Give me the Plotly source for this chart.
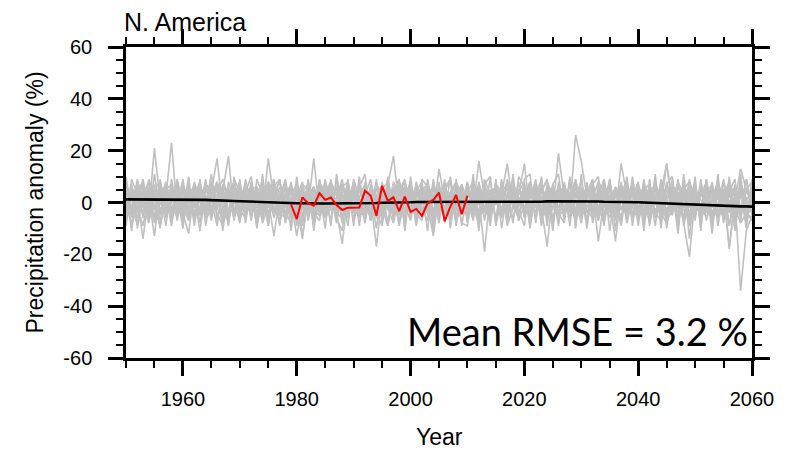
import plotly.graph_objects as go

years = list(range(1950, 2061))

member_a = [3, -5, 8, 2, -4, 21, 0, 5, -6, 2,
            4, -3, 1, 7, -2, 3, 6, -8, 2, 5,
            -1, 4, -6, 3, 8, 1, -13, 2, 5, -3,
            6, -2, 4, -9, 1, 7, -3, 2, 9, -5,
            3, -1, 5, -7, 2, 4, -3, 8, 1, -6,
            5, -2, 3, -4, 7, 1, -6, 2, 4, -3,
            6, -5, 2, -19, 4, 1, -3, 7, 2, -5,
            3, 8, -2, 5, -4, 1, 6, -3, 2, 9,
            -4, 3, 1, -7, 5, 2, -3, 6, -1, 4,
            -5, 7, 2, -3, 1, -6, 4, 3, -8, -21,
            2, 5, -4, 1, 6, -7, 3, -2, 4, -6,
            2]
member_b = [-2, 6, 1, -14, 4, -3, 7, 2, 23, -4,
            1, 5, -7, 3, 2, -4, 8, 1, -3, 6,
            2, -5, 7, 1, -3, 4, 9, -2, 1, -6,
            3, 5, -2, 17, -4, 1, 6, -3, 2, 4,
            -6, 2, 7, -1, 3, -4, 5, 1, -8, 3,
            4, -3, 6, 2, -5, 13, 1, -4, 3, 7,
            -2, 5, 3, -6, 1, 4, -3, 8, -1, 2,
            -5, 3, 6, -2, -17, 4, 1, 7, -3, 26,
            16, 2, -5, 4, 1, -6, 3, 7, -2, 5,
            1, -4, 6, 2, -3, 5, -1, 8, 3, -5,
            4, -2, 6, 1, -5, 3, -9, 2, 5, -3,
            1]
member_c = [5, 1, -6, 4, 2, -13, 6, -2, 3, 7,
            -4, -12, 5, 2, -3, 8, 1, 4, 18, -5,
            6, 2, -3, 1, 5, -7, 3, 8, -2, 4,
            -1, -14, 3, 6, -2, 4, 1, -5, 7, 2,
            4, -3, 6, 1, -17, 3, 5, -2, 4, 8,
            -3, 2, 5, -1, -13, 4, 7, -2, 3, 1,
            5, -3, 16, 2, -4, 6, 1, -2, 7, 3,
            15, -4, 2, 6, -3, 1, 5, -6, 3, 2,
            6, -2, 4, -15, 1, 7, -3, 2, 5, -1,
            3, -6, 2, 5, -2, 15, 1, -4, 6, 3,
            -2, 7, 1, -4, 3, 5, -18, 2, -34, -11,
            -5]
member_d = [-6, 4, 2, 7, -3, 1, 5, -4, 2, 6,
            3, -2, 6, -5, 1, 4, 17, -3, 2, 1,
            -4, 7, 1, -2, 5, 3, -6, 2, 8, -1,
            4, -13, 2, 5, -3, 8, 1, -4, -16, 3,
            2, 6, -3, 4, 1, -5, 7, 18, -2, 4,
            1, 5, -4, 3, 6, -2, 2, -5, 4, 1,
            -3, 6, 2, 4, -5, 1, 3, 15, -2, 5,
            2, -6, 4, 1, 5, -3, 19, 2, -4, 6,
            -3, 5, 1, 4, -2, 6, -5, 15, 3, -1,
            5, 2, -3, 6, 1, -4, 3, 7, -2, 4,
            1, -5, 6, 3, -2, 4, -17, 1, 13, 5,
            3]
member_e = [2, -3, 9, -2, 5, 1, -4, 6, 3, -5,
            7, 1, -4, 3, 6, -2, 2, -5, 4, 1,
            3, -2, 5, 6, -4, 17, 1, -3, 2, 5,
            -2, 4, 1, -6, 3, 2, 7, -1, 4, -3,
            5, 1, -2, 6, 3, -4, 2, 5, 1, -3,
            2, 6, -3, 1, 5, -4, 3, 2, -6, 4,
            1, -4, 5, 3, -2, 6, 1, -3, 4, 2,
            -3, 5, 2, -4, 6, 1, -2, 4, 3, -5,
            4, 1, -3, 6, -5, 2, 4, -2, 1, 7,
            -3, 2, 5, -1, 4, 15, -2, 3, 6, -4,
            2, 5, -3, 1, 4, -2, 6, -4, 3, 1,
            -2]
member_f = [-4, 7, -10, 3, 1, -6, 4, 2, -3, 5,
            1, 6, -2, 4, -5, 2, 3, -1, 6, -4,
            5, -3, 2, -6, 4, 1, 7, -2, 3, -4,
            2, 5, -5, 3, 6, -2, 1, 4, -3, 2,
            -1, 4, 6, -3, 2, -2, 5, 1, -4, 3,
            6, -2, 1, 4, -3, 2, 5, -4, 1, 6,
            -2, 3, 6, -4, 1, 5, -3, 2, 4, -1,
            6, -2, 3, 5, -1, 2, -4, 6, 1, 3,
            -2, 4, 6, -3, 2, 1, -15, 3, 5, -2,
            4, 1, -3, 6, 2, -4, 5, 1, -2, 3,
            6, -3, 2, 4, -1, 5, -4, 2, 6, -2,
            3]
member_g = [1, 4, -3, 6, 2, -5, 3, 7, -2, 1,
            -3, 5, 2, -4, 6, 1, -2, 4, 3, -6,
            2, 5, -1, 4, -3, 6, 2, -5, 3, 1,
            5, -3, 2, 6, -4, 1, 3, -2, 5, 2,
            -4, 6, 1, -3, 5, 2, -2, 4, 6, -3,
            3, 1, -4, 5, 2, -3, 6, 1, -2, 4,
            5, -2, 1, 4, -4, 2, 6, -3, 1, 5,
            -2, 4, 1, -5, 3, 6, -2, 2, 4, -3,
            5, 1, -4, 2, 6, -2, 3, 1, -5, 4,
            2, -3, 5, 1, -4, 3, 6, -2, 2, -5,
            4, 1, -3, 5, 2, -4, 3, 6, -2, 1,
            4]
member_h = [6, -2, 3, -5, 1, 4, -3, 2, 5, -1,
            2, -5, 4, 1, -3, 6, -2, 3, 1, 4,
            -5, 3, 1, 6, -2, 4, -4, 1, 5, -2,
            3, 1, -4, 5, 2, -3, 4, 6, -1, 3,
            1, -5, 3, 2, 6, -2, 4, -3, 1, 5,
            -4, 3, 6, -1, 2, 5, -3, 4, 1, -2,
            4, 1, -4, 6, 2, -1, 5, -3, 3, 1,
            4, -3, 6, 2, -1, 5, 3, -4, 1, 6,
            -1, 3, 5, -2, 4, 1, -3, 6, 2, -4,
            1, 5, -2, 3, -5, 2, 4, -1, 6, 2,
            -3, 4, 1, -2, 6, 3, -1, 5, -4, 2,
            1]
member_i = [-3, 2, -6, 1, -4, 3, -7, 1, -2, -5,
            -1, 3, -6, -2, 2, -5, 1, -4, -7, 2,
            -3, -6, 2, -1, -5, 3, -2, -7, 1, -4,
            -2, -6, 1, -3, -5, 2, -1, -4, -6, 1,
            -3, -5, 2, -7, -1, -3, 1, -6, -2, -4,
            1, -5, -3, 2, -6, -1, -4, 1, -7, -2,
            -4, 1, -6, -2, -5, 2, -3, -1, -6, 1,
            -2, -5, 1, -3, -6, -2, 2, -4, -1, -5,
            1, -3, -6, -1, -4, 2, -5, -2, 1, -6,
            -3, -1, -5, 2, -6, -2, -4, 1, -3, -7,
            -1, -4, 2, -6, -3, -5, 1, -7, -2, -4,
            -3]
member_j = [4, 1, 6, 2, 8, 3, 1, 5, 7, 2,
            5, 2, 7, 3, 1, 6, 4, 9, 2, 5,
            1, 7, 3, 5, 2, 8, 4, 1, 6, 3,
            7, 2, 5, 1, 6, 4, 8, 3, 1, 5,
            2, 6, 4, 1, 7, 3, 5, 2, 8, 4,
            1, 5, 3, 7, 2, 6, 1, 4, 8, 3,
            5, 2, 7, 1, 4, 6, 3, 8, 2, 5,
            3, 7, 1, 5, 8, 2, 4, 6, 1, 7,
            3, 5, 2, 8, 4, 1, 6, 3, 7, 2,
            5, 1, 4, 7, 2, 6, 3, 1, 5, 8,
            2, 4, 7, 1, 5, 3, 8, 2, 6, 4,
            1]
member_k = [-1, -8, 2, -4, 5, -2, -9, 1, 4, -3,
            2, -4, -1, 5, -6, -3, 2, -1, -5, 3,
            -2, 1, -5, 3, -8, -1, 2, -4, -6, 1,
            -13, 2, -4, -1, 3, -6, -2, 1, -5, -3,
            2, -4, -1, -6, 3, -2, -9, 1, -3, -5,
            -2, 2, -5, -1, 3, -4, -2, -6, 1, -3,
            -5, 2, -3, -1, -6, 3, -4, -2, 1, -7,
            -1, -4, 2, -6, -2, 1, -5, -3, 2, -4,
            -2, -6, 1, -4, -1, 3, -3, -5, 1, -2,
            -6, 2, -1, -4, -7, 1, -3, -2, -5, 2,
            -4, -1, -6, 2, -3, -5, 1, -2, -8, -4,
            -6]
member_l = [8, -6, 4, 1, -5, 6, 3, -2, 5, 1,
            -6, 4, 2, -11, 5, 1, -3, 7, 2, -4,
            6, 1, -4, 5, 3, -2, 7, -3, 2, 6,
            -5, 3, 1, 6, -2, 4, -3, 2, 7, -1,
            4, -3, 6, 2, -5, 1, 3, -4, 6, 2,
            -2, 5, 1, -4, 6, 3, -2, 4, -5, 2,
            6, -4, 3, 1, -3, 5, 2, -5, 4, 1,
            -4, 6, 2, 1, -5, 3, 5, -2, 4, -3,
            2, 6, -3, 1, 5, -4, 2, 4, -3, 6,
            -2, 3, 5, -4, 2, 1, -5, 6, 3, -2,
            5, -3, 2, 6, -4, 1, 4, -3, 2, 5,
            0]
member_m = [7, -4, 1, 9, -7, 3, -1, 8, -5, 4,
            -8, 2, 6, -3, 9, -6, 1, 5, -7, 3,
            8, -5, 4, -9, 2, 7, -4, 1, 9, -6,
            2, 8, -7, 3, -4, 9, -2, 6, -8, 1,
            7, -6, 3, 9, -4, -9, 5, -3, 8, -1,
            -7, 4, 8, -5, 2, -8, 6, 9, -3, 5,
            -8, 9, -1, 4, -7, 8, -5, 2, 9, -6,
            5, -7, 8, -2, 3, -9, 7, 1, -6, 9,
            -5, 8, -8, 3, 9, -4, 1, -9, 6, 2,
            8, -6, 4, -9, 7, -1, 9, -8, 2, 6,
            -7, 9, -4, 8, -9, 3, 7, -6, 9, -8,
            4]
member_n = [-7, 9, 3, -2, 6, -8, 2, -6, 9, -3,
            6, -7, 3, 8, -4, 1, -9, 6, 4, -2,
            -6, 9, -2, 4, -7, 5, 8, -8, 3, 7,
            -9, 4, 7, -2, 8, -5, 3, -8, 6, 8,
            -3, 8, -7, 4, 2, -6, 9, -1, -5, 7,
            3, -8, 5, 7, -9, 2, 4, -7, 9, -4,
            7, -2, -8, 9, 3, -6, 8, -9, -2, 8,
            -6, 2, 9, -8, 7, 4, -9, 8, -2, -6,
            9, -4, 3, 7, -9, 8, -2, 5, -7, 9,
            -4, 8, -9, 3, 6, -7, -3, 9, -9, 1,
            8, -6, 9, -5, 2, 8, -9, 4, -3, 9,
            -5]
member_o = [2, -9, 5, 8, -1, -7, 9, -3, 1, 6,
            -2, 8, -9, 5, 3, -7, 7, -2, -8, 9,
            4, -3, 8, -7, 6, -4, 2, 9, -8, 2,
            5, -8, 9, -4, -7, 3, 8, -6, 2, -9,
            9, 2, -8, 5, -6, 8, -2, -8, 4, 9,
            -6, 8, -2, -7, 9, -3, 5, 8, -9, 3,
            1, -7, 8, -3, 9, -9, 2, 6, -7, 4,
            8, -9, 3, 9, -6, 7, -4, -8, 9, 1,
            -8, 4, 9, -6, 2, 8, -7, 3, 9, -9,
            6, 3, -8, 9, -4, -8, 7, 2, -6, 9,
            -5, 3, 8, -9, 7, -3, 4, 9, -7, 5,
            8]
member_p = [-9, 6, -4, 3, 8, -2, 5, -9, 7, -1,
            9, -6, 4, -8, 7, 5, -4, -9, 8, 1,
            -8, 6, -7, 9, 3, -9, 6, 4, -5, 8,
            -4, 7, 5, -8, 9, 1, -7, 9, -2, -6,
            6, -9, 8, -4, 7, 3, -8, 6, -9, 2,
            8, -4, -7, 9, -5, 6, -8, 3, 7, -9,
            4, 8, -6, 2, -9, 7, 4, -8, 6, -3,
            -9, 8, -5, 4, 9, -7, 2, 5, -9, 8,
            3, -7, 6, -2, -8, 9, -6, 7, -4, 8,
            -9, 5, 7, -6, 9, -5, 2, -7, 8, -9,
            6, -8, 4, 7, -6, 9, -2, -8, 7, -4,
            -7]
member_q = [4, -11, 7, -6, 9, 2, -10, 6, -8, 3,
            -10, 7, -5, 9, -9, 3, 8, -11, 5, -7,
            9, -8, 6, -10, 7, -6, 4, -9, 8, -11,
            6, -9, 8, -7, 4, -10, 9, -6, -11, 7,
            -8, 10, -6, 3, -10, 7, -9, 5, 9, -11,
            7, -9, 4, -11, 8, -6, 9, -10, 5, -8,
            -9, 6, -11, 8, -7, 9, -10, 4, -8, 10,
            6, -10, 7, -9, 5, -11, 8, -7, 10, -9,
            4, -10, 8, -7, 9, -11, 6, -8, 10, -6,
            7, -11, 9, -6, 8, -10, 5, -12, 9, -14,
            8, -9, 6, -12, 9, -8, 10, -11, 5, -10,
            6]
member_r = [10, -3, -8, 5, -6, 11, -4, 3, -9, 8,
            -5, 10, -8, 6, -2, 11, -7, 4, -9, 10,
            -7, 4, 10, -5, 11, -9, 6, 9, -4, -8,
            10, -6, 8, -11, 7, 5, -9, 11, -3, 9,
            -9, 6, 11, -7, 9, -8, 10, -6, 5, -9,
            10, -7, 9, 6, -11, 8, -5, 10, -8, 6,
            -6, 11, -9, 7, 10, -8, 9, -6, 11, -7,
            9, 11, -8, 10, -9, 7, 11, -6, 8, -10,
            11, -9, 7, 10, -6, 9, -11, 8, -7, 10,
            -8, 9, -6, 11, -10, 7, 10, -9, 11, -7,
            10, -11, 9, -8, 11, -7, 9, -10, 11, -8,
            9]
member_s = [0, 5, -2, -9, 3, 7, -5, 0, 4, -7,
            5, 0, -6, 2, 7, -3, 0, 6, -4, 0,
            7, -2, 0, 5, -6, 2, -1, 6, 0, -5,
            0, 6, -3, 1, 7, -5, 0, 4, -6, 6,
            2, -1, 5, -5, 0, 7, -2, 3, -7, 0,
            5, 0, -6, 3, 1, -5, 6, 0, -3, 7,
            0, -6, 4, 2, -1, 7, -5, 0, 5, -2,
            7, 0, -4, 6, 1, -6, 3, 0, 7, -3,
            0, 6, -2, 4, -7, 0, 5, -3, 2, 6,
            -7, 0, 3, 5, -2, 7, 0, -6, 4, 0,
            6, -2, 0, 4, -6, 0, 5, -1, 7, 0,
            -4]
member_t = [-5, 3, 6, -1, -8, 5, 8, -4, 0, 9,
            -1, -7, 8, 0, -4, 7, 5, -6, 1, 8,
            -4, 0, 6, -8, 1, 8, -3, 4, -7, 6,
            -7, 1, 6, -5, 8, -1, 5, -7, 3, 0,
            8, -4, -5, 7, -2, 5, 8, -7, 3, 6,
            -5, 7, -1, 5, -7, 0, 8, -6, 6, -1,
            8, -3, 6, -7, 5, 1, -6, 9, -2, -4,
            1, 6, -7, 8, -3, 4, -8, 6, -1, 4,
            -6, 2, 8, -5, 6, 4, -2, 7, -8, 1,
            6, -8, 1, 6, -6, 8, -2, 4, -7, 7,
            -5, 6, -7, 2, 8, -5, -3, 7, -5, 9,
            -2]

members = [member_a, member_b, member_c, member_d, member_e, member_f,
           member_g, member_h, member_i, member_j, member_k, member_l,
           member_m, member_n, member_o, member_p, member_q, member_r,
           member_s, member_t]

ens_mean = [1.2, 1.2, 1.1, 1.1, 1.1, 1.1, 1.2, 1.2, 1.2, 1.1,
            1.1, 1.0, 1.0, 1.0, 1.0, 0.9, 0.9, 0.8, 0.7, 0.6,
            0.5, 0.4, 0.3, 0.1, 0.0, -0.1, -0.2, -0.2, -0.3, -0.3,
            -0.3, -0.3, -0.4, -0.4, -0.4, -0.4, -0.4, -0.4, -0.3, -0.3,
            -0.3, -0.3, -0.3, -0.2, -0.2, -0.1, -0.1, 0.0, 0.0, 0.1,
            0.1, 0.2, 0.2, 0.2, 0.2, 0.3, 0.3, 0.3, 0.3, 0.3,
            0.3, 0.3, 0.4, 0.4, 0.4, 0.4, 0.3, 0.4, 0.4, 0.4,
            0.3, 0.4, 0.2, 0.3, 0.5, 0.5, 0.6, 0.6, 0.6, 0.6,
            0.5, 0.5, 0.4, 0.4, 0.3, 0.3, 0.3, 0.3, 0.2, 0.2,
            0.1, 0.0, -0.1, -0.2, -0.3, -0.4, -0.5, -0.5, -0.6, -0.7,
            -0.8, -0.8, -0.9, -1.0, -1.1, -1.2, -1.3, -1.4, -1.5, -1.5,
            -1.6]

obs_years = list(range(1979, 2011))
obs_values = [-0.7, -6.4, 2.0, -0.3, -1.2, 3.6, 1.0, 1.9, -1.0, -2.9,
              -2.0, -2.0, -1.9, 4.5, 2.6, -5.1, 6.4, 0.6, 2.0, -3.3,
              2.3, -3.6, -2.5, -5.2, -0.3, 1.0, 3.8, -7.2, -1.6, 2.9,
              -4.5, 2.6]

x_ticks = [1960, 1980, 2000, 2020, 2040, 2060]
x_ticktext = ["1960", "1980", "2000", "2020", "2040", "2060"]
y_ticks = [-60, -40, -20, 0, 20, 40, 60]
y_ticktext = ["-60", "-40", "-20", "0", "20", "40", "60"]

FONT = "Liberation Sans, Arial, Helvetica, sans-serif"

fig = go.Figure()
for m in members:
    fig.add_trace(go.Scatter(x=years[:len(m)], y=m, mode="lines",
                             line=dict(color="#c0c0c0", width=1.6),
                             showlegend=False, hoverinfo="skip"))
fig.add_trace(go.Scatter(x=years, y=ens_mean, mode="lines",
                         line=dict(color="black", width=2.6), showlegend=False))
fig.add_trace(go.Scatter(x=obs_years, y=obs_values, mode="lines",
                         line=dict(color="red", width=2), showlegend=False))

axis_font = dict(family=FONT, size=20, color="black")
common = dict(showline=True, linecolor="black", linewidth=2.5, mirror="ticks",
              ticks="outside", ticklen=15, tickwidth=2.5, tickcolor="black",
              showgrid=False, zeroline=False, tickfont=axis_font)

fig.update_xaxes(range=[1950, 2060], tickvals=x_ticks, ticktext=x_ticktext,
                 ticklabelstandoff=6,
                 minor=dict(dtick=5, tick0=1950, ticks="outside", ticklen=7,
                            tickwidth=1.5, tickcolor="black", showgrid=False),
                 **common)
fig.update_yaxes(range=[-60, 60], tickvals=y_ticks, ticktext=y_ticktext,
                 ticklabelstandoff=12,
                 minor=dict(dtick=5, tick0=-60, ticks="outside", ticklen=7,
                            tickwidth=1.5, tickcolor="black", showgrid=False),
                 **common)

fig.add_annotation(text="N. America", xref="paper", yref="paper", x=0, y=1,
                   xanchor="left", yanchor="bottom", xshift=-4, yshift=9, showarrow=False,
                   font=dict(family=FONT, size=25, color="black"))
fig.add_annotation(text="Year", xref="paper", yref="paper", x=0.5, y=0,
                   xanchor="center", yanchor="middle", yshift=-79, showarrow=False,
                   font=dict(family=FONT, size=23, color="black"))
fig.add_annotation(text="Precipitation anomaly (%)", xref="paper", yref="paper",
                   x=0, y=0.5, xanchor="center", yanchor="middle", xshift=-92,
                   textangle=-90, showarrow=False,
                   font=dict(family=FONT, size=23, color="black"))
fig.add_annotation(text="Mean RMSE = 3.2 %", xref="paper", yref="paper", x=1, y=0,
                   xanchor="right", yanchor="bottom", xshift=-2, yshift=2, showarrow=False,
                   font=dict(family="Lato, sans-serif", size=38, color="black"))

fig.update_layout(width=788, height=452, plot_bgcolor="white", paper_bgcolor="white",
                  margin=dict(l=118, r=44, t=39, b=102))

fig.write_html("out.html")
